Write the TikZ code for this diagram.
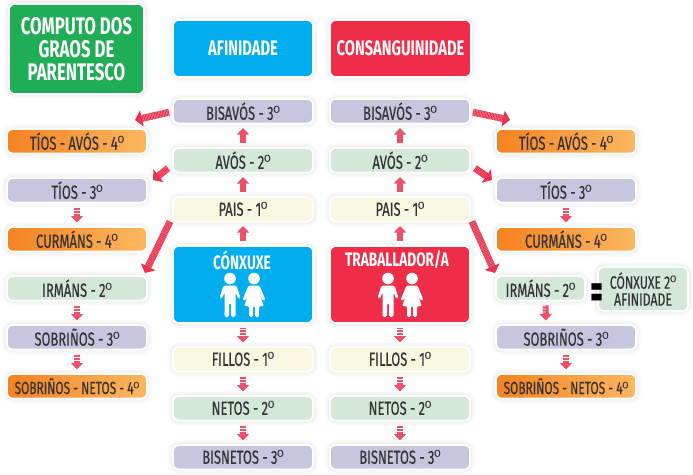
\documentclass[tikz,border=0pt]{standalone}
\usepackage{fontspec}
\usepackage{graphicx}
\setmainfont{Fira Sans}[FakeStretch=0.68,FakeBold=0.35]
\newfontfamily\headfont{Fira Sans}[FakeStretch=0.7]
\newfontfamily\ordfont{Liberation Sans}
\newcommand{\oo}{{\ordfont\addfontfeature{FakeStretch=0.9}º}}
\usetikzlibrary{arrows.meta,calc}
\definecolor{lav}{HTML}{C6C6DF}
\definecolor{pale}{HTML}{D3E8D6}
\definecolor{cream}{HTML}{F7F8DF}
\definecolor{skyb}{HTML}{00AEEF}
\definecolor{redb}{HTML}{EF2D48}
\definecolor{greenb}{HTML}{1FAE55}
\definecolor{orangeA}{HTML}{F58220}
\definecolor{orangeB}{HTML}{FDB760}
\definecolor{ink}{HTML}{333338}
\definecolor{arrowred}{HTML}{E8344F}
\tikzset{
  softbox/.style={rounded corners=6pt,inner sep=0pt,outer sep=0pt,align=center,anchor=north west,
    preaction={draw=black,draw opacity=.012,line width=11pt},
    preaction={draw=black,draw opacity=.016,line width=8pt},
    preaction={draw=black,draw opacity=.02,line width=5.5pt},
    draw=white,line width=1.6pt},
  level/.style={softbox,text=ink,font=\fontsize{19}{19}\selectfont},
  col/.style={level,minimum width=140pt,minimum height=24.5pt},
  lavb/.style={col,fill=lav},
  paleb/.style={col,fill=pale},
  creamb/.style={col,fill=cream},
  orangeb/.style={col,left color=orangeA,middle color=orangeA!75!orangeB,right color=orangeB},
  headb/.style={softbox,text=white,font=\headfont\fontsize{21}{22}\selectfont\bfseries},
  iconlab/.style={text=white,font=\headfont\fontsize{19.5}{20}\selectfont\bfseries,inner sep=0pt},
  upar/.style={-{Triangle[length=6.5pt,width=12pt]},line width=6pt,draw=arrowred!85!white,
    dash pattern=on 1.1pt off .4pt,shorten >=4.5pt,shorten <=5pt},
  bigar/.style={-{Triangle[length=7pt,width=16pt]},line width=7pt,draw=arrowred,
    dash pattern=on 1.1pt off .45pt},
  figure/.style={fill=white,draw=none}
}
\newcommand{\couple}[2]{%
  \begin{scope}[shift={(#1,#2)}]
    % man
    \fill[figure] (-12,-14.5) circle (5.8);
    \fill[figure,rounded corners=1.6pt] (-18.5,-7.5) -- (-5.5,-7.5) -- (-1.5,5) -- (-3.8,6) -- (-6.5,-1)
      -- (-6.5,24) -- (-11,24) -- (-11,10) -- (-13,10) -- (-13,24) -- (-17.5,24) -- (-17.5,-1)
      -- (-20.2,6) -- (-22.5,5) -- cycle;
    % woman
    \fill[figure] (12,-14.5) circle (5.8);
    \fill[figure,rounded corners=1.4pt] (6.5,-7.5) -- (17.5,-7.5) -- (23.5,7) -- (21,8) -- (17.5,2)
      -- (22,13) -- (17,13) -- (17,24) -- (13,24) -- (13,13) -- (11,13) -- (11,24)
      -- (7,24) -- (7,13) -- (2,13) -- (6.5,2) -- (3,8) -- (0.5,7) -- cycle;
  \end{scope}}
\begin{document}
\begin{tikzpicture}[x=1pt,y=-1pt]
\useasboundingbox (0,0) rectangle (693,474);
\fill[white] (0,0) rectangle (693,474);

% headers
\node[headb,fill=greenb,minimum width=135pt,minimum height=90pt,font=\headfont\fontsize{24}{23}\selectfont\bfseries] (title) at (9,4) {COMPUTO DOS\\GRAOS DE\\PARENTESCO};
\node[headb,fill=skyb,minimum width=140pt,minimum height=57pt] (afin) at (173,20) {AFINIDADE};
\node[headb,fill=redb,minimum width=141pt,minimum height=57pt] (cons) at (330,20) {CONSANGUINIDADE};

% afinidade column
\node[lavb] (abis) at (173,99) {BISAVÓS - 3\oo};
\node[paleb] (aavo) at (173,148) {AVÓS - 2\oo};
\node[creamb] (apai) at (173,197) {PAIS - 1\oo};
\node[headb,fill=skyb,minimum width=140pt,minimum height=77pt] (acon) at (173,246) {};
\node[iconlab] (aconl) at (242,260) {CÓNXUXE};
\node[creamb] (afil) at (173,347) {FILLOS - 1\oo};
\node[paleb] (anet) at (173,396) {NETOS - 2\oo};
\node[lavb] (abn) at (173,445) {BISNETOS - 3\oo};

% consanguinidade column
\node[lavb] (cbis) at (330,99) {BISAVÓS - 3\oo};
\node[paleb] (cavo) at (330,148) {AVÓS - 2\oo};
\node[creamb] (cpai) at (330,197) {PAIS - 1\oo};
\node[headb,fill=redb,minimum width=140pt,minimum height=77pt] (ctra) at (330,246) {};
\node[iconlab] (ctral) at (397,260) {TRABALLADOR/A};
\node[creamb] (cfil) at (330,347) {FILLOS - 1\oo};
\node[paleb] (cnet) at (330,396) {NETOS - 2\oo};
\node[lavb] (cbn) at (330,445) {BISNETOS - 3\oo};

\couple{242}{293}
\couple{400}{293}

% left column
\node[orangeb] (lta) at (7,129) {TÍOS - AVÓS - 4\oo};
\node[lavb] (lti) at (7,178) {TÍOS - 3\oo};
\node[orangeb] (lcu) at (7,227) {CURMÁNS - 4\oo};
\node[paleb] (lir) at (7,276) {IRMÁNS - 2\oo};
\node[lavb] (lso) at (7,325) {SOBRIÑOS - 3\oo};
\node[orangeb,font=\fontsize{17.5}{18}\selectfont] (lsn) at (7,374) {SOBRIÑOS - NETOS - 4\oo};

% right column
\node[orangeb] (rta) at (496,129) {TÍOS - AVÓS - 4\oo};
\node[lavb] (rti) at (496,178) {TÍOS - 3\oo};
\node[orangeb] (rcu) at (496,227) {CURMÁNS - 4\oo};
\node[paleb,minimum width=89pt] (rir) at (496,276) {IRMÁNS - 2\oo};
\node[level,fill=pale,minimum width=90pt,minimum height=44pt,font=\fontsize{18}{17}\selectfont] (rco) at (598,267) {CÓNXUXE 2\oo\\AFINIDADE};
\node[lavb] (rso) at (496,325) {SOBRIÑOS - 3\oo};
\node[orangeb,font=\fontsize{17.5}{18}\selectfont] (rsn) at (496,374) {SOBRIÑOS - NETOS - 4\oo};
\node[inner sep=0pt,text=black,font=\fontsize{30}{30}\selectfont\bfseries] (eq) at (596.5,296) {\scalebox{1.15}[1.7]{=}};

% vertical arrows, afinidade
\draw[upar] (aavo) -- (abis);
\draw[upar] (apai) -- (aavo);
\draw[upar] (acon) -- (apai);
\draw[upar] (acon) -- (afil);
\draw[upar] (afil) -- (anet);
\draw[upar] (anet) -- (abn);
% vertical arrows, consanguinidade
\draw[upar] (cavo) -- (cbis);
\draw[upar] (cpai) -- (cavo);
\draw[upar] (ctra) -- (cpai);
\draw[upar] (ctra) -- (cfil);
\draw[upar] (cfil) -- (cnet);
\draw[upar] (cnet) -- (cbn);
% side columns
\draw[upar] (lti) -- (lcu);
\draw[upar] (lir) -- (lso);
\draw[upar] (lso) -- (lsn);
\draw[upar] (rti) -- (rcu);
\draw[upar] ($(rir.south)+(5,0)$) -- ($(rso.north)+(-20,0)$);
\draw[upar] (rso) -- (rsn);

% diagonal arrows
\draw[bigar] ($(abis.west)+(-4,1)$) -- ($(lta.north east)+(-12,-9)$);
\draw[bigar] ($(aavo.west)+(-5,8)$) -- ($(lti.north east)+(6,2)$);
\draw[bigar] ($(apai.south west)+(-3,0)$) -- ($(lir.north east)+(-2,-3)$);
\draw[bigar] ($(cbis.east)+(3,1)$) -- ($(rta.north west)+(14,-9)$);
\draw[bigar] ($(cavo.east)+(5,8)$) -- ($(rti.north west)+(-4,2)$);
\draw[bigar] ($(cpai.south east)+(2,0)$) -- ($(rir.north west)+(-1,-3)$);
\end{tikzpicture}
\end{document}
